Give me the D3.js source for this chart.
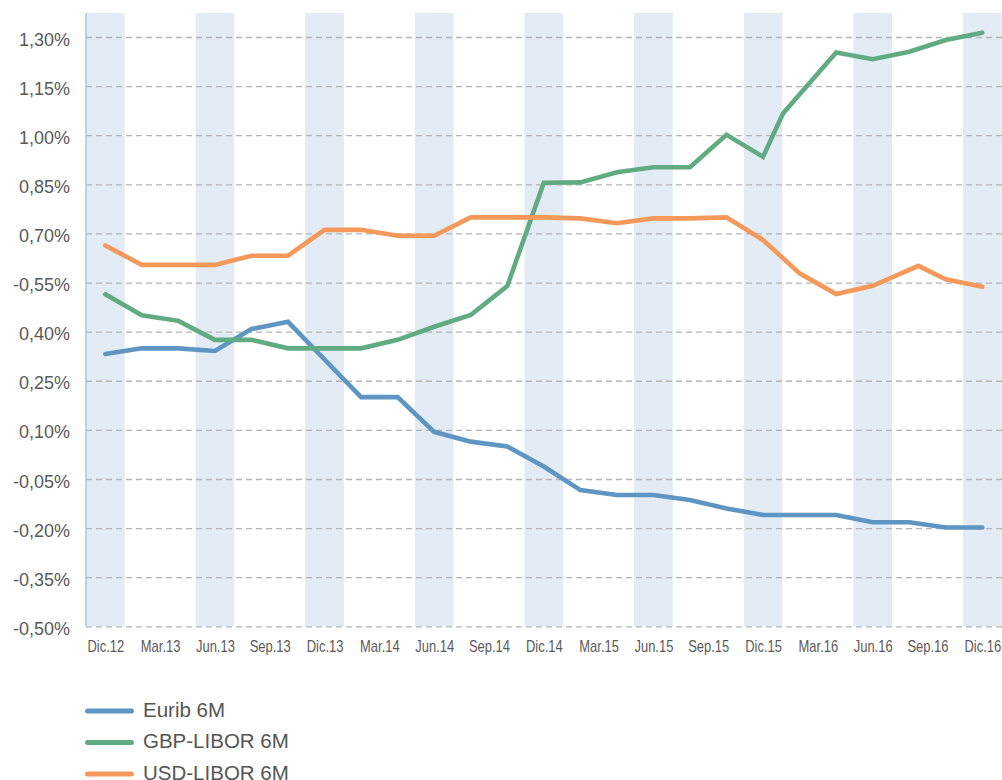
<!DOCTYPE html>
<html>
<head>
<meta charset="utf-8">
<script src="https://cdn.jsdelivr.net/npm/d3@7"></script>
<style>
  body { margin: 0; background: #fff; }
  svg { display: block; font-family: "Liberation Sans", Arial, sans-serif; }
</style>
</head>
<body>
<svg id="chart"></svg>
<script>
// Months counted from Dic.12 (bimonthly readings)
const months = [0, 2, 4, 6, 8, 10, 12, 14, 16, 18, 20, 22, 24, 26, 28, 30, 32, 34, 36, 38, 40, 42, 44, 46, 48];
const gbpMonths = [0, 2, 4, 6, 8, 10, 12, 14, 16, 18, 20, 22, 24, 26, 28, 30, 32, 34, 36, 37.1, 40, 42, 44, 46, 48];
const usdMonths = [0, 2, 4, 6, 8, 10, 12, 14, 16, 18, 20, 22, 24, 26, 28, 30, 32, 34, 36, 38, 40, 42, 44.5, 46, 48];

const euribValues = [0.332, 0.349, 0.349, 0.341, 0.408, 0.430, 0.315, 0.200, 0.200, 0.094, 0.064, 0.049, -0.012,
  -0.084, -0.099, -0.099, -0.114, -0.140, -0.160, -0.160, -0.160, -0.182, -0.182, -0.198, -0.198];
const gbpValues = [0.514, 0.450, 0.433, 0.375, 0.375, 0.349, 0.349, 0.349, 0.375, 0.415, 0.451, 0.539, 0.855,
  0.856, 0.887, 0.902, 0.902, 1.001, 0.934, 1.067, 1.253, 1.232, 1.255, 1.291, 1.313];
const usdValues = [0.663, 0.604, 0.604, 0.604, 0.632, 0.632, 0.711, 0.711, 0.693, 0.693, 0.749, 0.749, 0.749,
  0.746, 0.731, 0.746, 0.746, 0.749, 0.680, 0.578, 0.515, 0.540, 0.601, 0.560, 0.537];

// Quarter labels on the x axis
const xLabelMonths = [0, 3, 6, 9, 12, 15, 18, 21, 24, 27, 30, 33, 36, 39, 42, 45, 48];
const xLabels = ["Dic.12", "Mar.13", "Jun.13", "Sep.13", "Dic.13", "Mar.14", "Jun.14", "Sep.14", "Dic.14",
  "Mar.15", "Jun.15", "Sep.15", "Dic.15", "Mar.16", "Jun.16", "Sep.16", "Dic.16"];
// Shaded half-year bands
const bandMonths = [0, 6, 12, 18, 24, 30, 36, 42, 48];

const yTicks = [1.30, 1.15, 1.00, 0.85, 0.70, 0.55, 0.40, 0.25, 0.10, -0.05, -0.20, -0.35, -0.50];
const yLabels = ["1,30%", "1,15%", "1,00%", "0,85%", "0,70%", "-0,55%", "0,40%", "0,25%", "0,10%",
  "-0,05%", "-0,20%", "-0,35%", "-0,50%"];

const seriesNames = ["Eurib 6M", "GBP-LIBOR 6M", "USD-LIBOR 6M"];

// Dimensions
const width = 1002;
const height = 780;
const plotLeft = 86;
const plotRight = 1002;
const plotTop = 13;
const plotBottom = 626.3;

const colors = ["#5e96c3", "#60ab82", "#f4995a"];

const xScale = d3.scaleLinear()
  .domain([0, 48])
  .range([105.3, 982.3]);

const yScale = d3.scaleLinear()
  .domain([-0.50, 1.30])
  .range([plotBottom, 37]);

const svg = d3.select("#chart")
  .attr("width", width)
  .attr("height", height);

// Bands
const bandW = xScale(2.12) - xScale(0);
svg.append("g")
  .selectAll("rect")
  .data(bandMonths)
  .join("rect")
  .attr("x", d => xScale(d) - bandW / 2)
  .attr("y", plotTop)
  .attr("width", bandW)
  .attr("height", plotBottom - plotTop)
  .attr("fill", "#e3ebf4");

// Y axis + dashed grid
const yAxis = d3.axisLeft(yScale)
  .tickValues(yTicks)
  .tickFormat((d, i) => yLabels[i])
  .tickSizeInner(-(plotRight - plotLeft))
  .tickSizeOuter(0)
  .tickPadding(16);

const gy = svg.append("g")
  .attr("transform", `translate(${plotLeft},0)`)
  .call(yAxis);
gy.select(".domain").remove();
gy.selectAll(".tick line")
  .attr("stroke", "#b5b5b5")
  .attr("stroke-width", 1.3)
  .attr("stroke-dasharray", "6,4");
gy.selectAll(".tick text")
  .attr("fill", "#5a5a5a")
  .attr("font-size", 18)
  .attr("dy", "0.45em");

// Left axis line
svg.append("line")
  .attr("x1", plotLeft)
  .attr("x2", plotLeft)
  .attr("y1", plotTop)
  .attr("y2", plotBottom)
  .attr("stroke", "#a9c5e2")
  .attr("stroke-width", 1.5);

// X axis labels (condensed look)
const xAxis = d3.axisBottom(xScale)
  .tickValues(xLabelMonths)
  .tickFormat((d, i) => xLabels[i])
  .tickSize(0);

const gx = svg.append("g")
  .attr("transform", `translate(0,${plotBottom})`)
  .call(xAxis);
gx.select(".domain").remove();
gx.selectAll(".tick text")
  .attr("y", 26)
  .attr("dy", null)
  .attr("fill", "#5a5a5a")
  .attr("font-size", 16)
  .attr("transform", "scale(0.81,1)");

// Lines
const series = [
  { months: months, values: euribValues },
  { months: gbpMonths, values: gbpValues },
  { months: usdMonths, values: usdValues }
];

const line = d3.line()
  .x(d => xScale(d[0]))
  .y(d => yScale(d[1]));

svg.append("g")
  .selectAll("path")
  .data(series)
  .join("path")
  .attr("d", s => line(s.months.map((m, i) => [m, s.values[i]])))
  .attr("fill", "none")
  .attr("stroke", (s, i) => colors[i])
  .attr("stroke-width", 4.6)
  .attr("stroke-linecap", "round")
  .attr("stroke-linejoin", "miter");

// Legend
const legendY = [711, 742.5, 774];
const legend = svg.append("g")
  .selectAll("g")
  .data(seriesNames)
  .join("g")
  .attr("transform", (d, i) => `translate(0,${legendY[i]})`);

legend.append("line")
  .attr("x1", 87.5)
  .attr("x2", 131.5)
  .attr("stroke", (d, i) => colors[i])
  .attr("stroke-width", 5)
  .attr("stroke-linecap", "round");

legend.append("text")
  .attr("x", 143)
  .attr("y", 5.8)
  .attr("fill", "#555")
  .attr("font-size", 20.5)
  .text(d => d);
</script>
</body>
</html>
